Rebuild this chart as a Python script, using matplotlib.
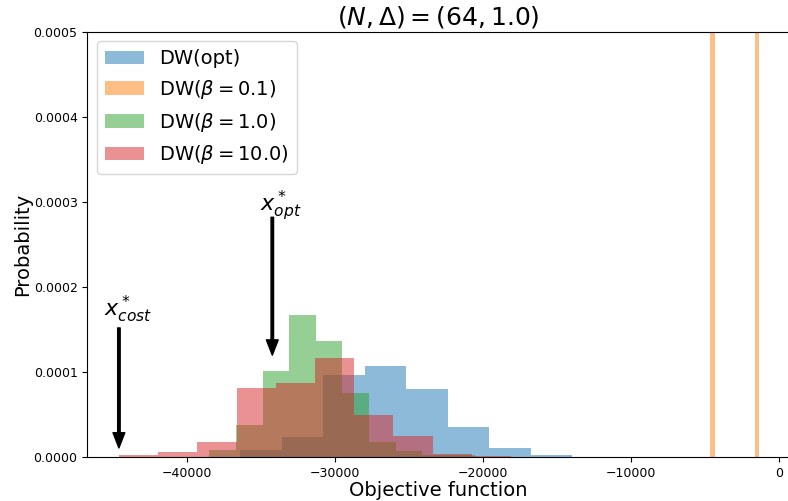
import numpy as np
import matplotlib
matplotlib.use("Agg")
import matplotlib.pyplot as plt

# ---- data ----
labels = ["DW(opt)", r"DW($\beta=0.1$)", r"DW($\beta=1.0$)", r"DW($\beta=10.0$)"]

opt_edges = [-36387, -33583, -30779, -27975, -25171, -22367, -19563, -16759, -13955]
opt_heights = [8.2e-6, 2.42e-5, 9.69e-5, 1.076e-4, 7.99e-5, 3.52e-5, 1.13e-5, 2.3e-6]

b01_edges = [-4648, -4315, -3982, -3649, -3316, -2983, -2650, -2317, -1984, -1651, -1318]
b01_heights = [1.5e-3, 0, 0, 0, 0, 0, 0, 0, 0, 1.5e-3]

b1_edges = [-38481, -36684, -34887, -33090, -31293, -29496, -27699, -25902, -24105, -22308, -20511]
b1_heights = [8.2e-6, 3.76e-5, 1.018e-4, 1.668e-4, 1.37e-4, 7.52e-5, 1.76e-5, 7.0e-6, 2.4e-6, 2.4e-6]

b10_edges = [-44595, -41948, -39298, -36649, -34001, -31352, -28703, -26055, -23406, -20757, -18108]
b10_heights = [2.7e-6, 6.6e-6, 1.83e-5, 8.11e-5, 8.70e-5, 1.163e-4, 4.94e-5, 2.47e-5, 3.5e-6, 1.8e-6]

x_cost = -44600
x_opt = -34236

title = r"$(N,\Delta)=(64,1.0)$"

# ---- figure ----
W, H = 788, 501
fig = plt.figure(figsize=(W / 100, H / 100), dpi=100)
ax_left = 87.3 / W
ax_bottom = 1 - 457.3 / H
ax_top = 1 - 31.7 / H
ax_right_px = 790
ax = fig.add_axes([ax_left, ax_bottom, (ax_right_px - 87.3) / W, ax_top - ax_bottom])

colors = ["C0", "C1", "C2", "C3"]
series = [(opt_edges, opt_heights), (b01_edges, b01_heights),
          (b1_edges, b1_heights), (b10_edges, b10_heights)]
for (edges, heights), c, lab in zip(series, colors, labels):
    e = np.asarray(edges, dtype=float)
    ax.bar(e[:-1], heights, width=np.diff(e), align="edge", color=c, alpha=0.5,
           label=lab, linewidth=0)

px_per_unit = 148.0 / 10000
x0 = -46736
x1 = x0 + (ax_right_px - 87.3) / px_per_unit
ax.set_xlim(x0, x1)
ax.set_ylim(0, 0.0005)
ax.set_yticks([0, 0.0001, 0.0002, 0.0003, 0.0004, 0.0005])
ax.set_yticklabels(["0.0000", "0.0001", "0.0002", "0.0003", "0.0004", "0.0005"])
ax.set_xticks([-40000, -30000, -20000, -10000, 0])
ax.tick_params(labelsize=9)

ax.set_xlabel("Objective function", fontsize=14, labelpad=1)
ax.set_ylabel("Probability", fontsize=14, labelpad=1)
ax.set_title(title, fontsize=18, pad=5)

arrow_kw = dict(facecolor="black", edgecolor="black", width=1.8, headwidth=8.5,
                headlength=11, shrink=0)
ax.annotate("", xy=(x_cost, 1.1e-5), xytext=(x_cost, 1.52e-4), arrowprops=arrow_kw)
ax.annotate("", xy=(x_opt, 1.2e-4), xytext=(x_opt, 2.82e-4), arrowprops=arrow_kw)
ax.text(-43988, 1.74e-4, r"$x^*_{cost}$", fontsize=16, ha="center", va="center")
ax.text(-33650, 2.96e-4, r"$x^*_{opt}$", fontsize=16, ha="center", va="center")

ax.legend(loc="upper left", fontsize=14, handlelength=2.0)

fig.savefig("out.png", dpi=100)
